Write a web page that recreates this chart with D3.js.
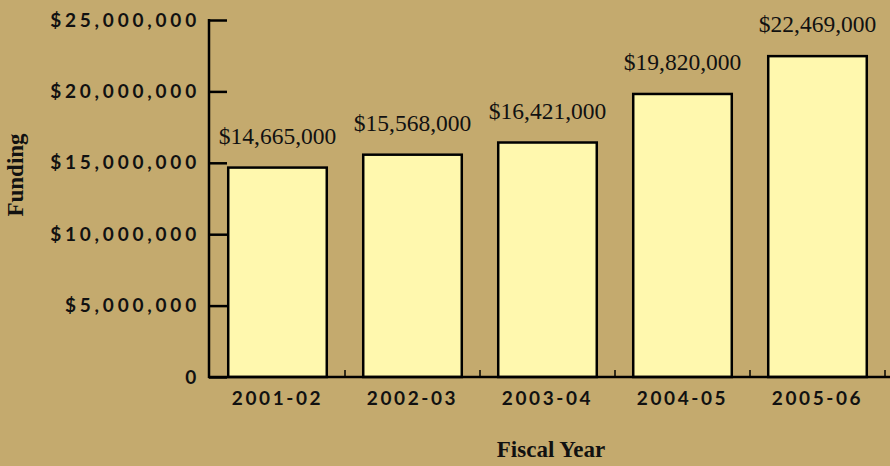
<!DOCTYPE html>
<meta charset="utf-8">
<style>
body {
    margin: 0px;
    background: #c4aa6e;
    overflow: hidden;
}
.tick text {
    font-family: Lato, sans-serif;
    font-weight: bold;
    font-size: 19px;
    letter-spacing: 2.6px;
    fill: #111;
}
.ytick text {
    letter-spacing: 3.8px;
}
.val {
    font-family: "Liberation Serif", serif;
    font-size: 23.5px;
    fill: #111;
}
.title {
    font-family: "Liberation Serif", serif;
    font-weight: bold;
    font-size: 23px;
    fill: #111;
}
</style>
<body>
<script src="https://d3js.org/d3.v7.min.js"></script>
<script>
var years = ["2001-02", "2002-03", "2003-04", "2004-05", "2005-06"];
var funding = [14665000, 15568000, 16421000, 19820000, 22469000];
var yTicks = [0, 5000000, 10000000, 15000000, 20000000, 25000000];

var width = 890,
    height = 466;

var svg = d3.select("body").append("svg")
    .attr("width", width)
    .attr("height", height);

var x = d3.scaleBand()
    .domain(years)
    .range([210, 885])
    .paddingInner(0.27)
    .paddingOuter(0.135);

var y = d3.scaleLinear()
    .domain([0, 25000000])
    .range([377, 20]);

var fmt = function(d) { return d === 0 ? "0" : "$" + d3.format(",")(d); };

// bars
svg.selectAll("rect.bar")
    .data(funding)
    .enter().append("rect")
    .attr("class", "bar")
    .attr("x", function(d, i) { return x(years[i]); })
    .attr("y", function(d) { return y(d); })
    .attr("width", x.bandwidth())
    .attr("height", function(d) { return y(0) - y(d); })
    .attr("fill", "#fff8ae")
    .attr("stroke", "#000")
    .attr("stroke-width", 2.5);

svg.selectAll("text.val")
    .data(funding)
    .enter().append("text")
    .attr("class", "val")
    .attr("x", function(d, i) { return x(years[i]) + x.bandwidth() / 2; })
    .attr("y", function(d) { return y(d) - 24; })
    .attr("text-anchor", "middle")
    .text(function(d) { return "$" + d3.format(",")(d); });

// y axis, ticks pointing inward
var yAxis = svg.append("g")
    .attr("class", "ytick")
    .attr("transform", "translate(209,0)")
    .call(d3.axisRight(y).tickValues(yTicks).tickSize(18).tickFormat(fmt));
yAxis.select(".domain").remove();
yAxis.selectAll(".tick line").attr("stroke", "#000").attr("stroke-width", 2.5);
yAxis.selectAll(".tick text")
    .attr("x", -9)
    .attr("text-anchor", "end");
yAxis.append("line")
    .attr("x1", 0).attr("x2", 0)
    .attr("y1", y(25000000) - 1).attr("y2", y(0) + 1)
    .attr("stroke", "#000").attr("stroke-width", 2.5);

// x axis
var xAxis = svg.append("g")
    .attr("transform", "translate(0,377)");
xAxis.append("line")
    .attr("x1", 208).attr("x2", width)
    .attr("stroke", "#000").attr("stroke-width", 2.5);
xAxis.selectAll("line.sep")
    .data(years)
    .enter().append("line")
    .attr("class", "sep")
    .attr("x1", function(d) { return x(d) + x.bandwidth() + x.step() * x.paddingInner() / 2; })
    .attr("x2", function(d) { return x(d) + x.bandwidth() + x.step() * x.paddingInner() / 2; })
    .attr("y1", 0).attr("y2", -7)
    .attr("stroke", "#000").attr("stroke-width", 1.5);
xAxis.selectAll("g.tick")
    .data(years)
    .enter().append("g")
    .attr("class", "tick")
    .append("text")
    .attr("x", function(d) { return x(d) + x.bandwidth() / 2; })
    .attr("y", 28)
    .attr("text-anchor", "middle")
    .text(function(d) { return d; });

svg.append("text")
    .attr("class", "title")
    .attr("x", 551)
    .attr("y", 457)
    .attr("text-anchor", "middle")
    .text("Fiscal Year");

svg.append("text")
    .attr("class", "title")
    .attr("transform", "translate(23,175) rotate(-90)")
    .attr("text-anchor", "middle")
    .text("Funding");
</script>
</body>
</html>
